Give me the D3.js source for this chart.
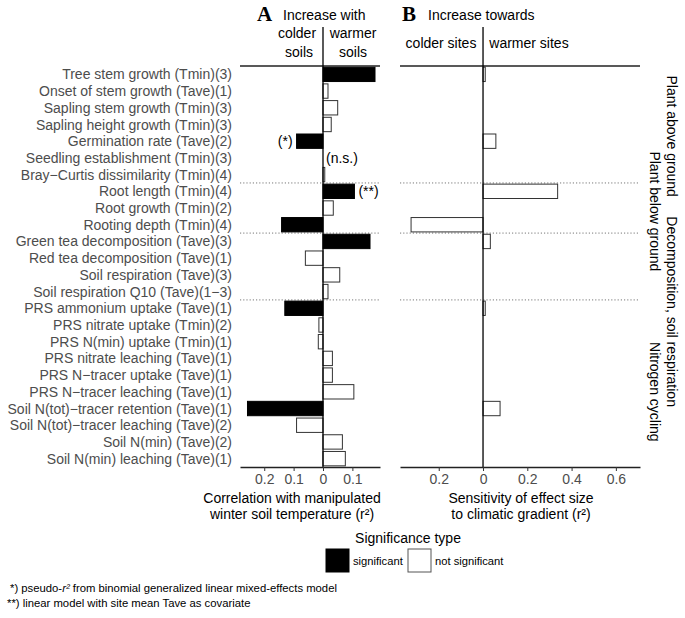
<!DOCTYPE html>
<html>
<head>
<meta charset="utf-8">
<script src="https://cdn.jsdelivr.net/npm/d3@7"></script>
<style>
  body { margin: 0; background: #fff; }
  text { font-family: "Liberation Sans", Arial, sans-serif; }
  text.letter { font-family: "Liberation Serif", "Times New Roman", serif; font-weight: bold; }
</style>
</head>
<body>
<svg id="chart" width="685" height="618"></svg>
<script>
// responses, top to bottom
const labels = [
  "Tree stem growth (Tmin)(3)", "Onset of stem growth (Tave)(1)", "Sapling stem growth (Tmin)(3)",
  "Sapling height growth (Tmin)(3)", "Germination rate (Tave)(2)", "Seedling establishment (Tmin)(3)",
  "Bray\u2212Curtis dissimilarity (Tmin)(4)", "Root length (Tmin)(4)", "Root growth (Tmin)(2)",
  "Rooting depth (Tmin)(4)", "Green tea decomposition (Tave)(3)", "Red tea decomposition (Tave)(1)",
  "Soil respiration (Tave)(3)", "Soil respiration Q10 (Tave)(1\u22123)", "PRS ammonium uptake (Tave)(1)",
  "PRS nitrate uptake (Tmin)(2)", "PRS N(min) uptake (Tmin)(1)", "PRS nitrate leaching (Tave)(1)",
  "PRS N\u2212tracer uptake (Tave)(1)", "PRS N\u2212tracer leaching (Tave)(1)",
  "Soil N(tot)\u2212tracer retention (Tave)(1)", "Soil N(tot)\u2212tracer leaching (Tave)(2)",
  "Soil N(min) (Tave)(2)", "Soil N(min) leaching (Tave)(1)"
];
// panel A: r2, negative = increase with colder soils (null = n.s., no bar)
const corrA = [0.177, 0.017, 0.05, 0.028, -0.09, null, 0.006, 0.107, 0.035, -0.141, 0.16, -0.06,
  0.057, 0.017, -0.13, -0.014, -0.016, 0.032, 0.032, 0.105, -0.257, -0.09, 0.066, 0.076];
const sigA = [1, 0, 0, 0, 1, 0, 0, 1, 0, 1, 1, 0, 0, 0, 1, 0, 0, 0, 0, 0, 1, 0, 0, 0];
// panel B: sensitivity to gradient
const sensB = [0.01, null, null, null, 0.058, null, null, 0.337, null, -0.325, 0.033, null,
  null, null, 0.01, null, null, null, null, null, 0.077, null, null, null];
const sigB = labels.map(() => 0);
const notesA = {4: "(*)", 5: "(n.s.)", 7: "(**)"};

const ticksA = [-0.2, -0.1, 0, 0.1];
const ticksB = [-0.2, 0, 0.2, 0.4, 0.6];
const groupBreaks = [7, 10, 14];
const groups = [
  {name: "Plant above ground", pos: 4.2, col: 0},
  {name: "Plant below ground", pos: 8.7, col: 1},
  {name: "Decomposition, soil respiration", pos: 14.7, col: 0},
  {name: "Nitrogen cycling", pos: 19.5, col: 1}
];

const svg = d3.select("#chart");
const grey = "#4d4d4d";
const fs = 14;
const yTop = 66, yBot = 467;

const y = d3.scaleBand().domain(d3.range(labels.length)).range([yTop, yBot]).paddingInner(0.14).paddingOuter(0.07);
const xA = d3.scaleLinear().domain([-0.2825, 0.194]).range([240, 380]);
const xB = d3.scaleLinear().domain([-0.375, 0.709]).range([400, 640]);

// row labels
svg.append("g").selectAll("text").data(labels).join("text")
  .attr("x", 232)
  .attr("y", (d, i) => y(i) + y.bandwidth() / 2)
  .attr("dy", "0.36em")
  .attr("text-anchor", "end")
  .attr("font-size", fs)
  .attr("fill", grey)
  .text(d => d);

function panel(x, vals, sig, ticks) {
  const g = svg.append("g");
  const [x0, x1] = x.range();
  // dotted group separators
  g.selectAll(".sep").data(groupBreaks).join("line")
    .attr("x1", x0).attr("x2", x1)
    .attr("y1", d => y.step() * d + yTop).attr("y2", d => y.step() * d + yTop)
    .attr("stroke", "#777").attr("stroke-width", 1).attr("stroke-dasharray", "1.2,2");
  // bars
  const rows = vals.map((v, i) => ({v, i, s: sig[i]})).filter(d => d.v !== null);
  g.selectAll("rect").data(rows).join("rect")
    .attr("x", d => x(Math.min(0, d.v)))
    .attr("width", d => Math.abs(x(d.v) - x(0)))
    .attr("y", d => y(d.i))
    .attr("height", y.bandwidth())
    .attr("fill", d => d.s ? "#000" : "#fff")
    .attr("stroke", d => d.s ? "#000" : "#333")
    .attr("stroke-width", 1);
  // top line
  g.append("line").attr("x1", x0).attr("x2", x1).attr("y1", yTop).attr("y2", yTop)
    .attr("stroke", "#222").attr("stroke-width", 1.4);
  // zero line
  g.append("line").attr("x1", x(0)).attr("x2", x(0)).attr("y1", 27).attr("y2", yBot)
    .attr("stroke", "#000").attr("stroke-width", 1.3);
  // bottom axis
  const ax = g.append("g").attr("transform", `translate(0,${yBot})`)
    .call(d3.axisBottom(x).tickValues(ticks).tickFormat(d => d3.format("")(Math.abs(d))).tickSize(4).tickPadding(3).tickSizeOuter(0));
  ax.select(".domain").attr("stroke", "#222").attr("stroke-width", 1.4);
  ax.selectAll(".tick line").attr("stroke", "#333");
  ax.selectAll("text").attr("font-size", fs).attr("fill", grey).attr("font-family", null);
  return g;
}

panel(xA, corrA, sigA, ticksA);
panel(xB, sensB, sigB, ticksB);

// annotations in panel A
Object.entries(notesA).forEach(([i, t]) => {
  i = +i;
  const v = corrA[i];
  let xp, anchor;
  if (v === null) { xp = xA(0) + 3; anchor = "start"; }
  else if (v < 0) { xp = xA(v) - 4; anchor = "end"; }
  else { xp = xA(v) + 4; anchor = "start"; }
  svg.append("text").attr("x", xp).attr("y", y(i) + y.bandwidth() / 2).attr("dy", "0.36em")
    .attr("text-anchor", anchor).attr("font-size", fs).attr("fill", "#000").text(t);
});

// panel headers
function header(letter, lx, title, tx) {
  svg.append("text").attr("class", "letter").attr("x", lx).attr("y", 21)
    .attr("font-size", 21).text(letter);
  svg.append("text").attr("x", tx).attr("y", 20).attr("font-size", fs).text(title);
}
header("A", 257, "Increase with", 283);
header("B", 402, "Increase towards", 428);

const hdr = [
  {t: "colder", x: 297, y: 38}, {t: "soils", x: 299, y: 57},
  {t: "warmer", x: 353, y: 38}, {t: "soils", x: 353, y: 57},
  {t: "colder sites", x: 441, y: 48}, {t: "warmer sites", x: 529, y: 48}
];
svg.append("g").selectAll("text").data(hdr).join("text")
  .attr("x", d => d.x).attr("y", d => d.y).attr("text-anchor", "middle")
  .attr("font-size", fs).text(d => d.t);

// group labels, rotated
svg.append("g").selectAll("text").data(groups).join("text")
  .attr("transform", d => `translate(${d.col ? 650 : 667},${yTop + y.step() * d.pos}) rotate(90)`)
  .attr("text-anchor", "middle")
  .attr("font-size", fs)
  .text(d => d.name);

// axis titles
const titles = [
  {x: 292, lines: ["Correlation with manipulated", "winter soil temperature (r\u00b2)"]},
  {x: 521, lines: ["Sensitivity of effect size", "to climatic gradient (r\u00b2)"]}
];
titles.forEach(tt => {
  tt.lines.forEach((l, k) => {
    svg.append("text").attr("x", tt.x).attr("y", 503 + k * 16).attr("text-anchor", "middle")
      .attr("font-size", fs).text(l);
  });
});

// legend
svg.append("text").attr("x", 408).attr("y", 543).attr("text-anchor", "middle").attr("font-size", fs)
  .text("Significance type");
const legend = [{t: "significant", s: 1, x: 326}, {t: "not significant", s: 0, x: 408}];
const lg = svg.append("g").selectAll("g").data(legend).join("g")
  .attr("transform", d => `translate(${d.x},549)`);
lg.append("rect").attr("width", 23).attr("height", 23)
  .attr("fill", d => d.s ? "#000" : "#fff").attr("stroke", d => d.s ? "#000" : "#555");
lg.append("text").attr("x", 27).attr("y", 12).attr("dy", "0.36em").attr("font-size", 11.2).text(d => d.t);

// footnotes
const f1 = svg.append("text").attr("x", 10).attr("y", 592).attr("font-size", 11.3);
f1.append("tspan").text("*) pseudo-");
f1.append("tspan").attr("font-style", "italic").text("r\u00b2");
f1.append("tspan").text(" from binomial generalized linear mixed-effects model");
svg.append("text").attr("x", 7).attr("y", 607).attr("font-size", 11.3)
  .text("**) linear model with site mean Tave as covariate");
</script>
</body>
</html>
